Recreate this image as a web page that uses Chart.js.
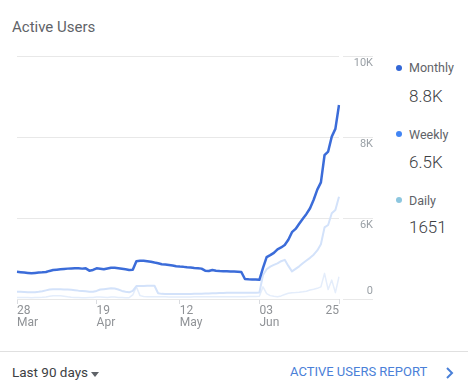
<!DOCTYPE html>
<html>
<head>
<meta charset="utf-8">
<script src="https://cdn.jsdelivr.net/npm/chart.js@4/dist/chart.umd.min.js"></script>
<style>
  html, body { margin: 0; padding: 0; background: #fff; }
  body { width: 468px; height: 386px; position: relative; overflow: hidden; font-family: Roboto, "Noto Sans", sans-serif; }
  .abs { position: absolute; white-space: nowrap; line-height: 20px; }
  #title { left: 12px; top: 17px; font-size: 15px; color: #5f6368; }
  #chartBox { position: absolute; left: 0; top: 40px; width: 380px; height: 300px; }
  .lg { left: 409px; font-size: 12.5px; color: #5f6368; }
  .val { left: 409px; font-size: 17px; font-weight: 300; color: #3c4043; }
  .dot { position: absolute; width: 6px; height: 6px; border-radius: 50%; left: 396px; }
  #sep { position: absolute; left: 0; top: 351px; width: 468px; height: 1px; background: #e0e0e0; }
  #range { left: 12px; top: 362px; font-size: 13.5px; color: #3c4043; }
  #caret { position: absolute; left: 91px; top: 372px; width: 0; height: 0;
           border-left: 4.5px solid transparent; border-right: 4.5px solid transparent; border-top: 5px solid #5f6368; }
  #report { left: 290px; top: 362px; font-size: 13px; color: #4a80d8; }
  #chev { position: absolute; left: 444px; top: 366px; }
</style>
</head>
<body>
<div id="title" class="abs">Active Users</div>
<div id="chartBox"><canvas id="c"></canvas></div>

<div class="dot" style="top:65px;background:#3367d6"></div>
<div class="abs lg" style="top:58px">Monthly</div>
<div class="abs val" style="top:85.5px">8.8K</div>

<div class="dot" style="top:131px;background:#4285f4"></div>
<div class="abs lg" style="top:124.5px">Weekly</div>
<div class="abs val" style="top:152px">6.5K</div>

<div class="dot" style="top:197px;background:#8cc6df"></div>
<div class="abs lg" style="top:190.5px">Daily</div>
<div class="abs val" style="top:217px">1651</div>

<div id="sep"></div>
<div id="range" class="abs">Last 90 days</div>
<div id="caret"></div>
<div id="report" class="abs">ACTIVE USERS REPORT</div>
<svg id="chev" width="12" height="14" viewBox="0 0 12 14"><polyline points="3,2 8,7 3,12" fill="none" stroke="#4a80d8" stroke-width="2"/></svg>

<script>
// ---- data (28 Mar .. 25 Jun, 90 days) ----
const startDate = [2018, 2, 28];
const monthly = [
  2020,1990,1960,1930,1900,1930,1960,1975,2000,2080,
  2150,2175,2200,2225,2250,2260,2270,2275,2250,2270,
  2100,2150,2275,2240,2200,2260,2320,2310,2280,2240,
  2200,2150,2160,2800,2830,2840,2800,2760,2700,2650,
  2580,2560,2520,2480,2430,2400,2380,2350,2330,2300,
  2280,2250,2100,2070,2150,2100,2070,2060,2050,2040,
  2030,2020,2000,1480,1460,1450,1440,1420,2300,3100,
  3250,3420,3680,3820,4000,4390,4950,5190,5580,5950,
  6100,6240,6450,6700,6880,7550,7640,8010,8200,8790
];
const weekly = [
  540,530,520,505,495,500,530,580,640,700,
  716,720,720,710,700,680,650,620,600,570,
  545,540,600,700,730,760,790,780,700,600,
  540,494,600,960,965,970,975,980,985,430,
  380,370,370,365,365,365,365,370,375,380,
  385,390,400,410,420,430,440,450,460,465,
  465,470,470,470,470,470,470,480,1780,2200,
  2400,2530,2640,2800,2900,2450,2050,2230,2420,2650,
  2850,3050,3280,3600,4050,5300,5480,6116,6200,6526
];
const daily = [
  120,120,110,110,100,110,120,130,150,200,
  240,250,240,200,160,130,120,110,100,100,
  110,120,150,140,130,120,150,140,120,110,
  100,100,300,900,250,180,170,170,160,160,
  160,160,150,150,150,150,150,150,150,160,
  160,160,170,170,170,170,170,170,170,170,
  170,170,170,170,180,180,180,200,900,400,
  250,200,170,230,330,420,470,480,500,530,
  580,660,720,790,900,1900,700,1400,470,1651
];
const yTicks = [0, 6000, 8000, 10000];
const xTickDays = [0, 22, 45, 67, 89];
const xTickText = [['28','Mar'], ['19','Apr'], ['12','May'], ['03','Jun'], ['25']];

const labels = [];
for (let i = 0; i < monthly.length; i++) {
  const d = new Date(startDate[0], startDate[1], startDate[2] + i);
  labels.push(d.toISOString().slice(0, 10));
}

// piecewise value axis: equal bands between the tick values
class BandScale extends Chart.LinearScale {
  _toDecimal(v) {
    const b = yTicks, n = b.length - 1;
    let k = 0;
    while (k < n - 1 && v > b[k + 1]) k++;
    return (k + (v - b[k]) / (b[k + 1] - b[k])) / n;
  }
  getPixelForValue(value) {
    return this.getPixelForDecimal(this._toDecimal(value));
  }
  getValueForPixel(pixel) {
    const b = yTicks, n = b.length - 1;
    const t = this.getDecimalForPixel(pixel) * n;
    const k = Math.max(0, Math.min(n - 1, Math.floor(t)));
    return b[k] + (t - k) * (b[k + 1] - b[k]);
  }
}
BandScale.id = 'band';
BandScale.defaults = Chart.LinearScale.defaults;
Chart.register(BandScale);

const lastLabelRight = {
  id: 'lastLabelRight',
  beforeDraw(chart) {
    const items = chart.scales.x.getLabelItems();
    if (items.length) items[items.length - 1].options.textAlign = 'right';
  }
};

new Chart(document.getElementById('c'), {
  type: 'line',
  data: {
    labels,
    datasets: [
      { label: 'Monthly', data: monthly, borderColor: '#3b6cd9', borderWidth: 2.5 },
      { label: 'Weekly', data: weekly, borderColor: '#d3e2fa', borderWidth: 2 },
      { label: 'Daily', data: daily, borderColor: '#e4edfb', borderWidth: 1.5 }
    ]
  },
  options: {
    responsive: true,
    maintainAspectRatio: false,
    animation: false,
    events: [],
    elements: { point: { radius: 0 }, line: { tension: 0, borderJoinStyle: 'round' } },
    layout: { padding: { left: 17, top: 16, right: 7, bottom: 10 } },
    plugins: { legend: { display: false }, tooltip: { enabled: false } },
    scales: {
      x: {
        type: 'category',
        offset: false,
        border: { display: false },
        grid: { drawOnChartArea: false, tickLength: 5, tickColor: '#dadce0', color: '#dadce0' },
        afterBuildTicks: (s) => { s.ticks = s.ticks.filter(t => xTickDays.includes(t.value)); },
        ticks: {
          autoSkip: false, maxRotation: 0, minRotation: 0, align: 'start', padding: 1,
          color: '#8f9296',
          font: { family: 'Roboto', size: 12, lineHeight: '12px' },
          callback: (v) => xTickText[xTickDays.indexOf(v)]
        }
      },
      y: {
        type: 'band',
        position: 'right',
        min: 0, max: 10000,
        border: { display: false },
        grid: { color: '#e8e8e8', tickColor: '#e8e8e8', tickLength: 34, tickBorderDash: [0, 4, 30, 200] },
        afterBuildTicks: (s) => { s.ticks = yTicks.map(v => ({ value: v })); },
        afterFit: (s) => { s.width = 34; s.paddingTop = 0; s.paddingBottom = 0; },
        ticks: {
          mirror: true, crossAlign: 'near', padding: 34,
          color: '#9aa0a6',
          font: { family: 'Roboto', size: 11, lineHeight: '15px' },
          callback: (v) => v === 0 ? ['0', ''] : ['', (v / 1000) + 'K']
        }
      }
    }
  },
  plugins: [lastLabelRight]
});
</script>
</body>
</html>
